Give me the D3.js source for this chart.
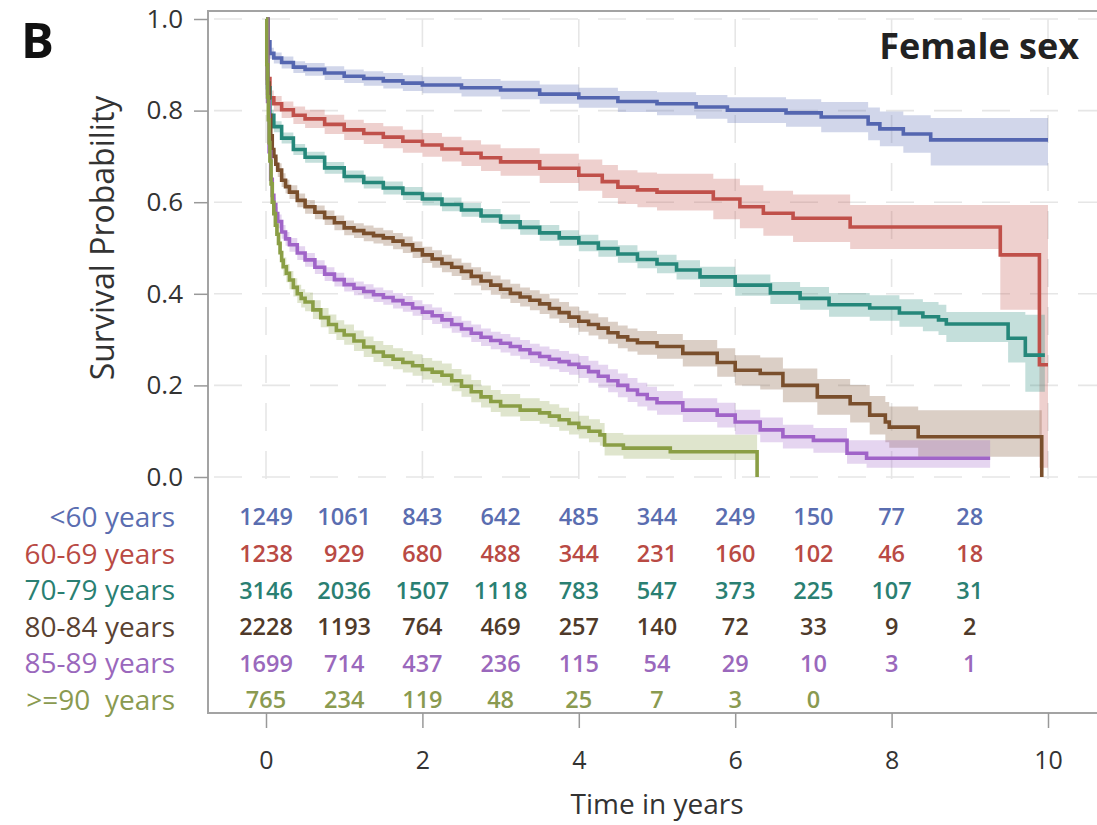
<!DOCTYPE html>
<html><head><meta charset="utf-8">
<script src="https://cdn.jsdelivr.net/npm/d3@7"></script>
<style>
html,body{margin:0;padding:0;background:#fff;}
svg text{font-family:"Open Sans","Noto Sans",sans-serif;}
</style></head>
<body><svg id="c" width="1097" height="825"></svg>
<script>
// ---------- data ----------
const groups = ["<60 years","60-69 years","70-79 years","80-84 years","85-89 years",">=90\u00a0 years"];
const lineColors = ["#5466b0","#c0504a","#25877a","#7a4f2c","#a064c8","#8a9e45"];
const labelColors = ["#5a6db0","#b94a44","#2a7f72","#5a4232","#9a68bc","#8a9a50"];
const numColors = ["#5a6db0","#b94a44","#2a7f72","#4f3a2a","#9a68bc","#8a9a50"];
const xTicks = [0,2,4,6,8,10];
const yTicks = [0,0.2,0.4,0.6,0.8,1.0];
const riskTimes = [0,1,2,3,4,5,6,7,8,9];

const tLt60 = [0,0.02,0.05,0.1,0.2,0.35,0.5,0.75,1,1.25,1.5,1.75,2,2.5,3,3.5,4,4.5,5,5.5,5.9,6.65,7.1,7.7,7.85,8.15,8.5,10];
const sLt60 = [1,0.95,0.925,0.915,0.905,0.895,0.89,0.882,0.875,0.87,0.865,0.86,0.856,0.85,0.845,0.836,0.828,0.82,0.815,0.808,0.801,0.795,0.786,0.771,0.76,0.749,0.736,0.736];
const loLt60 = [1,0.94,0.913,0.903,0.892,0.882,0.876,0.867,0.86,0.854,0.848,0.843,0.838,0.831,0.825,0.815,0.806,0.797,0.79,0.782,0.773,0.765,0.753,0.735,0.722,0.708,0.68,0.68];
const hiLt60 = [1,0.96,0.937,0.927,0.918,0.908,0.904,0.897,0.89,0.886,0.882,0.877,0.874,0.869,0.865,0.857,0.85,0.843,0.84,0.834,0.829,0.825,0.819,0.807,0.798,0.79,0.784,0.784];

const t60 = [0,0.02,0.05,0.1,0.2,0.35,0.5,0.75,1,1.25,1.5,1.75,2,2.25,2.5,2.75,3,3.5,4,4.3,4.5,4.75,5,5.72,6.06,6.36,6.74,7.47,9.39,9.89,10];
const s60 = [1,0.87,0.828,0.815,0.802,0.79,0.782,0.77,0.758,0.75,0.742,0.733,0.725,0.716,0.707,0.697,0.688,0.674,0.659,0.645,0.633,0.627,0.622,0.607,0.59,0.576,0.565,0.546,0.485,0.245,0.245];
const lo60 = [1,0.855,0.812,0.798,0.784,0.771,0.762,0.749,0.736,0.727,0.718,0.708,0.699,0.689,0.679,0.668,0.658,0.642,0.625,0.609,0.596,0.589,0.582,0.563,0.543,0.527,0.513,0.498,0.365,0.02,0.02];
const hi60 = [1,0.885,0.844,0.832,0.82,0.809,0.802,0.791,0.78,0.773,0.766,0.758,0.751,0.743,0.735,0.726,0.718,0.706,0.693,0.681,0.67,0.665,0.662,0.651,0.637,0.625,0.617,0.594,0.594,0.594,0.594];

const t70 = [0,0.02,0.05,0.1,0.2,0.35,0.5,0.75,1,1.25,1.5,1.75,2,2.25,2.5,2.75,3,3.25,3.5,3.75,4,4.25,4.5,4.75,5,5.25,5.55,6,6.45,6.83,7.2,7.72,8.1,8.4,8.6,8.7,9.49,9.71,9.96];
const s70 = [1,0.85,0.79,0.765,0.74,0.715,0.698,0.675,0.656,0.643,0.631,0.619,0.607,0.595,0.583,0.57,0.557,0.545,0.533,0.522,0.511,0.499,0.487,0.475,0.465,0.452,0.437,0.419,0.402,0.39,0.376,0.369,0.358,0.35,0.343,0.334,0.303,0.266,0.266];
const lo70 = [1,0.838,0.778,0.753,0.728,0.703,0.686,0.662,0.643,0.63,0.617,0.605,0.593,0.58,0.568,0.555,0.541,0.529,0.516,0.505,0.493,0.481,0.468,0.456,0.445,0.431,0.415,0.396,0.378,0.365,0.35,0.341,0.328,0.318,0.31,0.295,0.25,0.186,0.186];
const hi70 = [1,0.862,0.802,0.777,0.752,0.727,0.71,0.688,0.669,0.656,0.645,0.633,0.621,0.61,0.598,0.585,0.573,0.561,0.55,0.539,0.529,0.517,0.506,0.494,0.485,0.473,0.459,0.442,0.426,0.415,0.402,0.397,0.388,0.382,0.376,0.36,0.36,0.354,0.354];

const t80 = [0,0.02,0.04,0.06,0.08,0.1,0.125,0.15,0.2,0.25,0.3,0.4,0.5,0.625,0.75,0.875,1,1.125,1.25,1.375,1.5,1.625,1.75,1.875,2,2.125,2.25,2.375,2.5,2.625,2.75,2.875,3,3.125,3.25,3.375,3.5,3.625,3.75,3.875,4,4.125,4.25,4.375,4.5,4.625,4.75,5,5.33,5.77,6,6.32,6.61,7.05,7.47,7.72,7.92,7.97,8.34,9.92];
const s80 = [1,0.86,0.79,0.745,0.715,0.7,0.683,0.67,0.648,0.634,0.622,0.604,0.59,0.578,0.566,0.555,0.544,0.538,0.532,0.527,0.522,0.515,0.507,0.496,0.485,0.476,0.466,0.458,0.449,0.438,0.428,0.419,0.41,0.401,0.393,0.386,0.378,0.368,0.359,0.349,0.34,0.333,0.325,0.315,0.306,0.299,0.293,0.285,0.27,0.25,0.233,0.226,0.2,0.175,0.16,0.135,0.12,0.109,0.088,0];
const lo80 = [1,0.845,0.775,0.73,0.7,0.685,0.668,0.655,0.633,0.619,0.607,0.589,0.575,0.563,0.55,0.539,0.528,0.522,0.515,0.51,0.505,0.497,0.489,0.478,0.467,0.457,0.447,0.439,0.43,0.418,0.408,0.398,0.389,0.38,0.372,0.364,0.356,0.346,0.336,0.326,0.317,0.309,0.301,0.291,0.281,0.274,0.267,0.258,0.241,0.219,0.2,0.191,0.163,0.136,0.119,0.093,0.076,0.064,0.044,0.044];
const hi80 = [1,0.875,0.805,0.76,0.73,0.715,0.698,0.685,0.663,0.649,0.637,0.619,0.605,0.593,0.582,0.571,0.56,0.554,0.549,0.544,0.539,0.533,0.525,0.514,0.503,0.495,0.485,0.477,0.468,0.458,0.448,0.44,0.431,0.422,0.414,0.408,0.4,0.39,0.382,0.372,0.363,0.357,0.349,0.339,0.331,0.324,0.319,0.312,0.299,0.281,0.266,0.261,0.237,0.214,0.201,0.177,0.164,0.154,0.146,0.146];

const t85 = [0,0.02,0.04,0.06,0.08,0.1,0.125,0.15,0.2,0.25,0.3,0.4,0.5,0.625,0.75,0.875,1,1.125,1.25,1.375,1.5,1.625,1.75,1.875,2,2.125,2.25,2.375,2.5,2.625,2.75,2.875,3,3.125,3.25,3.375,3.5,3.625,3.75,3.875,4,4.125,4.25,4.375,4.5,4.625,4.75,4.875,5,5.33,5.77,6,6.32,6.61,7,7.43,7.68,9.26];
const s85 = [1,0.82,0.71,0.65,0.615,0.595,0.575,0.558,0.535,0.52,0.507,0.489,0.474,0.458,0.443,0.431,0.42,0.412,0.405,0.398,0.392,0.385,0.378,0.369,0.36,0.352,0.343,0.333,0.323,0.314,0.305,0.298,0.292,0.285,0.278,0.27,0.263,0.257,0.252,0.246,0.24,0.23,0.22,0.21,0.2,0.19,0.18,0.171,0.162,0.146,0.135,0.12,0.103,0.088,0.08,0.052,0.041,0.041];
const lo85 = [1,0.805,0.695,0.635,0.6,0.58,0.56,0.543,0.52,0.505,0.492,0.474,0.459,0.443,0.428,0.416,0.405,0.397,0.389,0.382,0.376,0.368,0.361,0.352,0.343,0.334,0.325,0.315,0.305,0.295,0.286,0.279,0.272,0.265,0.257,0.249,0.241,0.235,0.229,0.223,0.216,0.206,0.195,0.185,0.174,0.164,0.154,0.145,0.136,0.12,0.108,0.093,0.076,0.062,0.053,0.029,0.02,0.02];
const hi85 = [1,0.835,0.725,0.665,0.63,0.61,0.59,0.573,0.55,0.535,0.522,0.504,0.489,0.473,0.458,0.446,0.435,0.427,0.421,0.414,0.408,0.402,0.395,0.386,0.377,0.37,0.361,0.351,0.341,0.333,0.324,0.317,0.312,0.305,0.299,0.291,0.285,0.279,0.275,0.269,0.264,0.254,0.245,0.235,0.226,0.216,0.206,0.197,0.188,0.172,0.162,0.147,0.13,0.114,0.107,0.08,0.08,0.08];

const t90 = [0,0.01,0.02,0.03,0.04,0.05,0.065,0.08,0.1,0.12,0.14,0.16,0.18,0.2,0.22,0.26,0.3,0.35,0.4,0.45,0.5,0.6,0.7,0.8,0.9,1,1.125,1.25,1.375,1.5,1.625,1.75,1.875,2,2.125,2.25,2.375,2.5,2.625,2.75,2.875,3,3.25,3.5,3.625,3.75,3.875,4,4.13,4.27,4.33,4.57,5.17,6.28];
const s90 = [1,0.9,0.83,0.78,0.73,0.69,0.64,0.6,0.575,0.55,0.53,0.51,0.49,0.473,0.459,0.445,0.43,0.414,0.4,0.39,0.382,0.365,0.348,0.333,0.32,0.31,0.297,0.284,0.273,0.264,0.257,0.25,0.243,0.235,0.229,0.222,0.21,0.198,0.186,0.175,0.165,0.155,0.146,0.14,0.133,0.125,0.117,0.108,0.1,0.092,0.07,0.063,0.055,0];
const lo90 = [1,0.88,0.81,0.76,0.71,0.67,0.62,0.58,0.555,0.53,0.51,0.49,0.47,0.453,0.439,0.425,0.41,0.394,0.38,0.37,0.362,0.345,0.327,0.312,0.299,0.289,0.275,0.262,0.251,0.242,0.235,0.228,0.221,0.213,0.206,0.199,0.187,0.175,0.163,0.152,0.142,0.132,0.122,0.116,0.109,0.101,0.093,0.084,0.076,0.068,0.047,0.04,0.037,0.037];
const hi90 = [1,0.92,0.85,0.8,0.75,0.71,0.66,0.62,0.595,0.57,0.55,0.53,0.51,0.493,0.479,0.465,0.45,0.434,0.42,0.41,0.403,0.386,0.369,0.355,0.342,0.333,0.32,0.307,0.297,0.288,0.281,0.275,0.268,0.26,0.254,0.248,0.236,0.224,0.212,0.2,0.19,0.181,0.172,0.166,0.159,0.151,0.143,0.134,0.126,0.118,0.096,0.092,0.092,0.092];

const riskLt60 = [1249,1061,843,642,485,344,249,150,77,28];
const risk60 = [1238,929,680,488,344,231,160,102,46,18];
const risk70 = [3146,2036,1507,1118,783,547,373,225,107,31];
const risk80 = [2228,1193,764,469,257,140,72,33,9,2];
const risk85 = [1699,714,437,236,115,54,29,10,3,1];
const risk90 = [765,234,119,48,25,7,3,0];

const times = [tLt60,t60,t70,t80,t85,t90];
const survs = [sLt60,s60,s70,s80,s85,s90];
const lows = [loLt60,lo60,lo70,lo80,lo85,lo90];
const highs = [hiLt60,hi60,hi70,hi80,hi85,hi90];
const risks = [riskLt60,risk60,risk70,risk80,risk85,risk90];

// ---------- layout ----------
const svg = d3.select("#c");
const panel = {left:208, top:11, right:1110, plotBottom:477, tableBottom:713};
const x = d3.scaleLinear().domain([0,10]).range([266,1048]);
const y = d3.scaleLinear().domain([0,1]).range([477,19]);

// grid
const grid = svg.append("g").attr("stroke","#e6e6e6").attr("stroke-width",1.6).attr("stroke-dasharray","28,20");
grid.selectAll("line.h").data(yTicks).join("line")
  .attr("x1",panel.left+6).attr("x2",1097).attr("y1",d=>y(d)).attr("y2",d=>y(d));
grid.selectAll("line.v").data(xTicks).join("line")
  .attr("x1",d=>x(d)).attr("x2",d=>x(d)).attr("y1",panel.top+8).attr("y2",panel.plotBottom+6);

// bands and lines
const area = d3.area().curve(d3.curveStepAfter)
  .x(d=>x(d.t)).y0(d=>y(d.lo)).y1(d=>y(d.hi));
const line = d3.line().curve(d3.curveStepAfter).x(d=>x(d.t)).y(d=>y(d.s));
const seriesData = groups.map((g,i)=>times[i].map((t,j)=>({t, s:survs[i][j], lo:lows[i][j], hi:highs[i][j]})));

svg.append("g").selectAll("path").data(seriesData).join("path")
  .attr("d",area).attr("fill",(d,i)=>lineColors[i]).attr("fill-opacity",0.27).attr("stroke","none");
svg.append("g").selectAll("path").data(seriesData).join("path")
  .attr("d",line).attr("fill","none").attr("stroke",(d,i)=>lineColors[i])
  .attr("stroke-width",3.6).attr("stroke-linejoin","miter");

// frame
svg.append("path")
  .attr("d",`M${panel.right},${panel.top}H${panel.left}V${panel.tableBottom}H${panel.right}`)
  .attr("fill","none").attr("stroke","#a3a3a3").attr("stroke-width",2);

// y axis
const yAxis = d3.axisLeft(y).tickValues(yTicks).tickFormat(d3.format(".1f")).tickSize(14).tickPadding(11);
const yg = svg.append("g").attr("transform",`translate(${panel.left},0)`).call(yAxis);
yg.select(".domain").remove();
yg.selectAll(".tick line").attr("stroke","#999").attr("stroke-width",1.5);
yg.selectAll(".tick text").attr("font-size",26).attr("fill","#333").attr("font-family","Open Sans");

// x axis (below risk table)
const xAxis = d3.axisBottom(x).tickValues(xTicks).tickFormat(d3.format("d")).tickSize(15).tickPadding(23);
const xg = svg.append("g").attr("transform",`translate(0,${panel.tableBottom})`).call(xAxis);
xg.select(".domain").remove();
xg.selectAll(".tick line").attr("stroke","#999").attr("stroke-width",1.5);
xg.selectAll(".tick text").attr("font-size",25).attr("fill","#333").attr("font-family","Open Sans");

// axis titles
svg.append("text").attr("x",657).attr("y",814).attr("text-anchor","middle")
  .attr("font-size",28).attr("fill","#333").text("Time in years");
svg.append("text").attr("transform","translate(114,238) rotate(-90)").attr("text-anchor","middle")
  .attr("font-size",32).attr("fill","#333").text("Survival Probability");

// panel letter and title
svg.append("text").attr("x",21).attr("y",58).attr("font-size",49).attr("font-weight",700)
  .attr("fill","#111").text("B");
svg.append("text").attr("x",1079).attr("y",59).attr("text-anchor","end").attr("font-size",36)
  .attr("font-weight",700).attr("fill","#222").text("Female sex");

// risk table
const rowY = d3.scalePoint().domain(groups).range([517,700]);
svg.append("g").selectAll("text").data(groups).join("text")
  .attr("x",175).attr("y",d=>rowY(d)).attr("dy","0.36em").attr("text-anchor","end")
  .attr("font-size",28).attr("fill",(d,i)=>labelColors[i]).text(d=>d);
const rows = svg.append("g").selectAll("g").data(groups).join("g");
rows.each(function(g,i){
  d3.select(this).selectAll("text").data(risks[i]).join("text")
    .attr("x",(d,j)=>x(riskTimes[j])).attr("y",rowY(g)).attr("dy","0.36em")
    .attr("text-anchor","middle").attr("font-size",23.5).attr("font-weight",600)
    .attr("fill",numColors[i]).text(d=>d);
});
</script></body></html>
